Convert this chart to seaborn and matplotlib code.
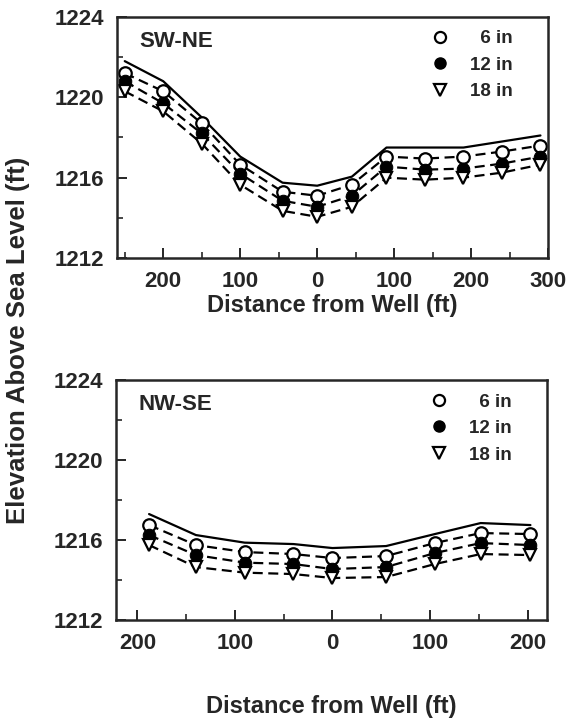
import matplotlib
matplotlib.use('Agg')
import pandas as pd
import matplotlib.pyplot as plt
import seaborn as sns
from matplotlib.lines import Line2D
from matplotlib.ticker import MultipleLocator, FuncFormatter

sns.set_style('ticks')
plt.rcParams['font.family'] = ['Liberation Sans', 'DejaVu Sans']
plt.rcParams['font.weight'] = 'bold'
plt.rcParams['lines.dashed_pattern'] = [4.5, 2.5]

# SW-NE transect (negative = SW side of the well)
swne_dist = [-250, -200, -150, -100, -45, 0, 45, 90, 140, 190, 240, 290]
swne_top = [1221.8, 1220.8, 1219.0, 1217.05, 1215.75, 1215.6, 1216.05, 1217.5, 1217.5, 1217.5, 1217.8, 1218.1]
swne_6 = [1221.2, 1220.3, 1218.7, 1216.65, 1215.3, 1215.1, 1215.65, 1217.05, 1216.95, 1217.05, 1217.3, 1217.6]
swne_12 = [1220.8, 1219.7, 1218.2, 1216.2, 1214.85, 1214.55, 1215.1, 1216.55, 1216.4, 1216.45, 1216.7, 1217.05]
swne_18 = [1220.3, 1219.3, 1217.7, 1215.65, 1214.35, 1214.05, 1214.55, 1216.0, 1215.9, 1216.0, 1216.25, 1216.65]

# NW-SE transect
nwse_dist = [-188, -140, -90, -40, 0, 55, 105, 152, 203]
nwse_top = [1217.3, 1216.25, 1215.87, 1215.8, 1215.6, 1215.7, 1216.3, 1216.85, 1216.75]
nwse_6 = [1216.75, 1215.75, 1215.4, 1215.3, 1215.1, 1215.2, 1215.85, 1216.35, 1216.3]
nwse_12 = [1216.25, 1215.25, 1214.87, 1214.8, 1214.55, 1214.65, 1215.35, 1215.85, 1215.75]
nwse_18 = [1215.75, 1214.65, 1214.37, 1214.3, 1214.1, 1214.15, 1214.8, 1215.3, 1215.25]

depth_labels = ['\u20076 in', '12 in', '18 in']

fig = plt.figure(figsize=(5.71, 7.24), dpi=100)
ax1 = fig.add_axes([0.205, 0.6436, 0.755, 0.333])
ax2 = fig.add_axes([0.203, 0.1436, 0.755, 0.3314])


def draw_panel(ax, dist, top, d6, d12, d18, name, xlim, xpad):
    df = pd.DataFrame({'dist': dist, 'top': top, 'd6': d6, 'd12': d12, 'd18': d18})
    sns.lineplot(data=df, x='dist', y='top', color='black', lw=1.6, ax=ax)
    sns.lineplot(data=df, x='dist', y='d6', color='black', lw=1.6, ls='--',
                 marker='o', ms=9, mfc='white', mec='black', mew=1.6, ax=ax)
    sns.lineplot(data=df, x='dist', y='d12', color='black', lw=1.6, ls='--',
                 marker='o', ms=9, mfc='black', mec='black', ax=ax)
    sns.lineplot(data=df, x='dist', y='d18', color='black', lw=1.6, ls='--',
                 marker='v', ms=9, mfc='white', mec='black', mew=1.6, ax=ax)

    ax.set_xlim(*xlim)
    ax.set_ylim(1212, 1224)
    ax.xaxis.set_major_locator(MultipleLocator(100))
    ax.xaxis.set_minor_locator(MultipleLocator(50))
    ax.yaxis.set_major_locator(MultipleLocator(4))
    ax.yaxis.set_minor_locator(MultipleLocator(2))
    ax.xaxis.set_major_formatter(FuncFormatter(lambda v, p: f'{abs(int(round(v)))}'))
    ax.tick_params(which='major', direction='in', length=7, width=1.4, labelsize=16, pad=9)
    ax.tick_params(which='minor', direction='in', length=4, width=1.2)
    for s in ax.spines.values():
        s.set_linewidth(1.8)
    ax.set_ylabel('')
    ax.set_xlabel('Distance from Well (ft)', fontsize=17, fontweight='bold', labelpad=xpad)
    ax.text(0.052, 0.9, name, transform=ax.transAxes, fontsize=16, fontweight='bold', va='center')

    handles = [
        Line2D([], [], ls='none', marker='o', ms=8, mfc='white', mec='black', mew=1.6),
        Line2D([], [], ls='none', marker='o', ms=8, mfc='black', mec='black'),
        Line2D([], [], ls='none', marker='v', ms=8, mfc='white', mec='black', mew=1.6),
    ]
    ax.legend(handles, depth_labels, loc='upper right', bbox_to_anchor=(0.958, 1.015),
              frameon=False, handlelength=1.0, handletextpad=1.1, labelspacing=0.5,
              prop={'size': 13.5, 'weight': 'bold'})


draw_panel(ax1, swne_dist, swne_top, swne_6, swne_12, swne_18, 'SW-NE', (-260, 300), 2)
draw_panel(ax2, nwse_dist, nwse_top, nwse_6, nwse_12, nwse_18, 'NW-SE', (-222, 220), 30)

fig.text(0.032, 0.53, 'Elevation Above Sea Level (ft)', rotation=90, ha='center', va='center',
         fontsize=18.5, fontweight='bold')

fig.savefig('out.png', dpi=100)
